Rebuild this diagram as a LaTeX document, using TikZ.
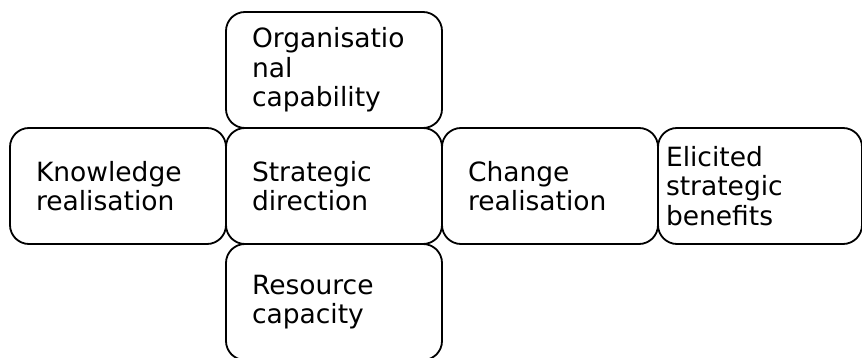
\documentclass[tikz,border=0pt]{standalone}
\usepackage{fontspec}
\setmainfont{DejaVu Sans}
\usetikzlibrary{positioning}

\tikzset{
  block/.style={draw, line width=1.8pt, rounded corners=19pt, outer sep=0pt,
    minimum width=216pt, minimum height=116pt, inner xsep=26pt, inner ysep=0pt,
    text width=164pt, align=left, font=\fontsize{26.5}{29.5}\selectfont},
}

\begin{document}
\begin{tikzpicture}[x=1pt, y=1pt, node distance=0pt]
\useasboundingbox (0,0) rectangle (862,-358);
\node[block] (strat) at (334,-186) {Strategic\\direction};
\node[block, above=of strat] (capab) {Organisatio\\nal\\capability};
\node[block, below=of strat] (resrc) {Resource\\capacity};
\node[block, left=of strat] (know) {Knowledge\\realisation};
\node[block, right=of strat] (change) {Change\\realisation};
%\node[block, right=of change] (benef) {Elicited strategic benefits};
\node[block, right=of change, minimum width=204pt, inner xsep=8pt, text width=188pt] (benef) {Elicited\\strategic\\benefits};
\end{tikzpicture}
\end{document}
